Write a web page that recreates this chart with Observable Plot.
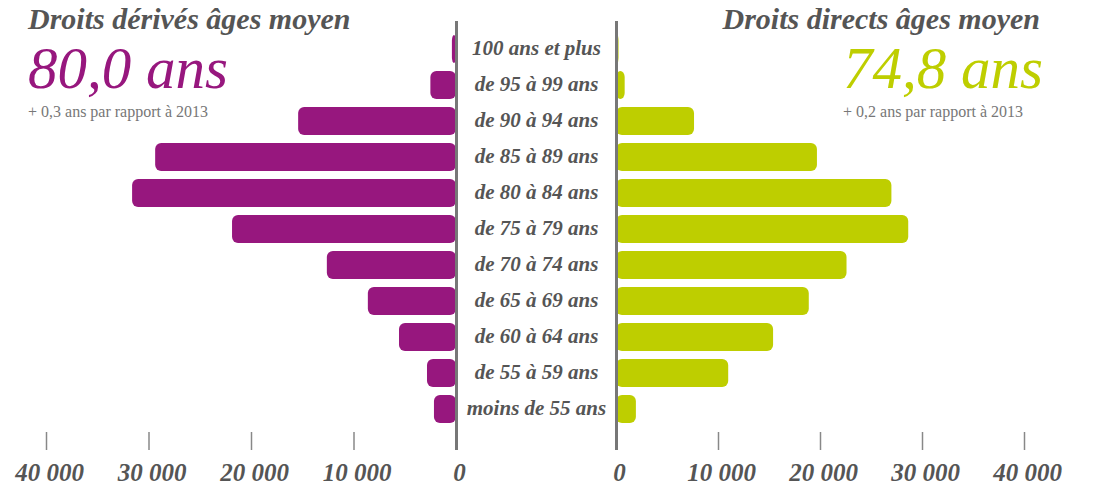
<!DOCTYPE html>
<html><head><meta charset="utf-8">
<script src="https://cdn.jsdelivr.net/npm/d3@7"></script>
<script src="https://cdn.jsdelivr.net/npm/@observablehq/plot@0.6"></script>
<style>
body{margin:0;background:#fff;}
#chart{position:relative;width:1098px;height:486px;overflow:hidden;font-family:"Liberation Serif",serif;}
#chart svg{position:absolute;top:0;background:transparent;overflow:visible;}
.t{position:absolute;line-height:1;white-space:nowrap;font-style:italic;}
.title{font-size:30px;font-weight:bold;color:#555;top:4.2px;}
.big{font-size:59px;line-height:0.8;top:45.2px;}
.sub{font-size:16px;color:#777;top:104px;font-style:normal;}
</style></head><body><div id="chart"></div>
<script>
const ageGroups = ["100 ans et plus","de 95 à 99 ans","de 90 à 94 ans","de 85 à 89 ans","de 80 à 84 ans","de 75 à 79 ans","de 70 à 74 ans","de 65 à 69 ans","de 60 à 64 ans","de 55 à 59 ans","moins de 55 ans"];
const derivedValues = [400, 2500, 15400, 29350, 31600, 21850, 12600, 8600, 5560, 2830, 2150];
const directValues = [250, 850, 7650, 19700, 27000, 28650, 22600, 18900, 15400, 11000, 1950];
const xTicks = [0, 10000, 20000, 30000, 40000];
const derivedTitle = "Droits dérivés âges moyen";
const derivedAvg = "80,0 ans";
const derivedNote = "+ 0,3 ans par rapport à 2013";
const directTitle = "Droits directs âges moyen";
const directAvg = "74,8 ans";
const directNote = "+ 0,2 ans par rapport à 2013";

const purple = "#97177e", green = "#bece00";
const fmt = d => d3.format(",")(d).replace(/,/g, " ");
const font = {fontFamily: "Liberation Serif, serif", fontStyle: "italic", fontWeight: "bold"};
const yScale = {domain: ageGroups, range: [29, 428], paddingInner: 0.23, paddingOuter: 0.115, axis: null};

const derived = ageGroups.map((age, i) => ({age, value: derivedValues[i]}));
const direct = ageGroups.map((age, i) => ({age, value: directValues[i]}));

function panel(data, color, reverse, width, ml, mr) {
  return Plot.plot({
    width, height: 486, marginLeft: ml, marginRight: mr, marginTop: 29, marginBottom: 54,
    style: {background: "transparent", ...font},
    x: {domain: [0, 40000], reverse, label: null},
    y: yScale,
    marks: [
      Plot.barX(data, {x: "value", y: "age", fill: color, rx: 6, ry: 6}),
      Plot.axisX({ticks: xTicks, tickSize: 18, tickFormat: fmt, label: null,
        stroke: "#888", strokeWidth: 1.5, fill: "none", fillOpacity: 0}),
      Plot.axisX({ticks: xTicks, tickSize: 0, tickPadding: 31, tickFormat: fmt, label: null,
        fill: "#555", fontSize: 25, dx: 3, ...font}),
      Plot.ruleX([0], {stroke: "#777", strokeWidth: 3, insetTop: -8, insetBottom: -18})
    ]
  });
}

const chart = document.getElementById("chart");
const left = panel(derived, purple, true, 480, 46, 24);
left.style.left = "0px";
const right = panel(direct, green, false, 538, 56, 74);
right.style.left = "560px";
const center = Plot.plot({
  width: 160, height: 486, marginLeft: 0, marginRight: 0, marginTop: 29, marginBottom: 54,
  style: {background: "transparent", ...font},
  y: yScale,
  marks: [
    Plot.text(ageGroups, {y: d => d, text: d => d, frameAnchor: "middle", fontSize: 21, fill: "#555", dy: -1, ...font})
  ]
});
center.style.left = "456px";
chart.append(left, right, center);

function addText(cls, txt, css) {
  const d = document.createElement("div");
  d.className = "t " + cls;
  d.textContent = txt;
  Object.assign(d.style, css);
  chart.append(d);
}
addText("title", derivedTitle, {left: "28px"});
addText("big", derivedAvg, {left: "28px", color: purple});
addText("sub", derivedNote, {left: "28px"});
addText("title", directTitle, {right: "58px"});
addText("big", directAvg, {left: "843px", color: green});
addText("sub", directNote, {left: "843px"});
</script>
</body></html>
